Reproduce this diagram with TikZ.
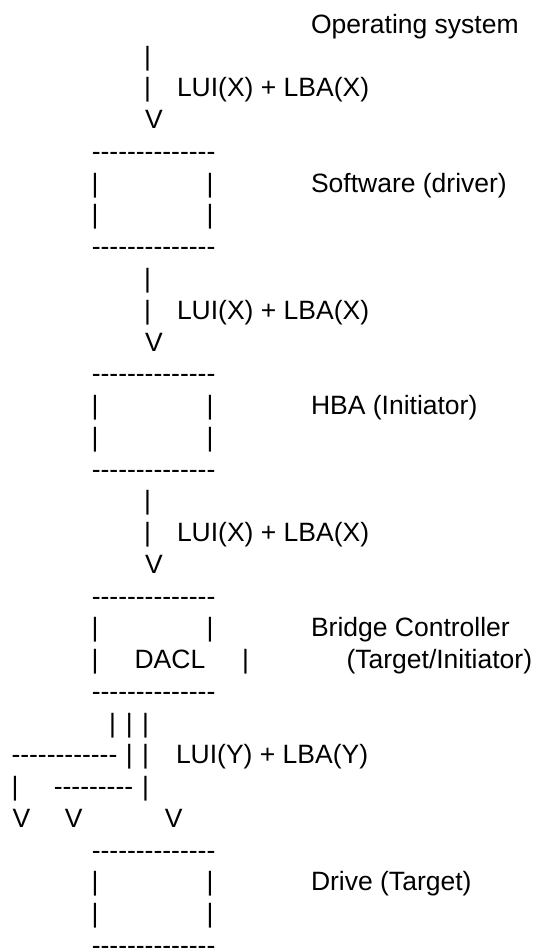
\documentclass[tikz,border=0pt]{standalone}
\usepackage{fontspec}
\newfontfamily\lsf{Liberation Sans}
\newcommand\hy{-\kern0pt}
\newcommand\Ln[1]{-33.5-31.75*(#1-1)}
\tikzset{
  txt/.style={anchor=base west, inner sep=0pt, outer sep=0pt, font=\lsf\fontsize{26.5}{31.75}\selectfont},
}
\begin{document}
\begin{tikzpicture}[x=1pt,y=1pt]
\fill[white] (0,0) rectangle (538,-949);
\useasboundingbox (0,0) rectangle (538,-949);
% top label
\node[txt] (os) at (311,{\Ln{1}}) {Operating system};
% arrows LUI(X)+LBA(X)
\foreach \s/\k in {2/a,9/b,16/c}{
  \node[txt] (bar1\k) at (144,{\Ln{\s}}) {|};
  \node[txt] (bar2\k) at (144,{\Ln{\s+1}}) {|};
  \node[txt] (lab\k) at (177,{\Ln{\s+1}}) {LUI(X) + LBA(X)};
  \node[txt] (v\k) at (145,{\Ln{\s+2}}) {V};
}
% boxes
\foreach \b/\k in {5/a,12/b,19/c,27/d}{
  \node[txt] (top\k) at (91.8,{\Ln{\b}}) {\hy\hy\hy\hy\hy\hy\hy\hy\hy\hy\hy\hy\hy\hy};
  \node[txt] (bot\k) at (91.8,{\Ln{\b+3}}) {\hy\hy\hy\hy\hy\hy\hy\hy\hy\hy\hy\hy\hy\hy};
  \node[txt] (l1\k) at (91.5,{\Ln{\b+1}}) {|};
  \node[txt] (l2\k) at (91.5,{\Ln{\b+2}}) {|};
  \node[txt] (r1\k) at (206.5,{\Ln{\b+1}}) {|};
}
\node[txt] (r2a) at (206.5,{\Ln{7}}) {|};
\node[txt] (r2b) at (206.5,{\Ln{14}}) {|};
\node[txt] (r2d) at (206.5,{\Ln{29}}) {|};
\node[txt] (dacl) at (134.6,{\Ln{21}}) {DACL};
\node[txt] (r2c) at (242.2,{\Ln{21}}) {|};
% labels
\node[txt] (sw) at (311,{\Ln{6}}) {Software (driver)};
\node[txt] (hba) at (311,{\Ln{13}}) {HBA (Initiator)};
\node[txt] (bc) at (311,{\Ln{20}}) {Bridge Controller};
\node[txt] (ti) at (346.5,{\Ln{21}}) {(Target/Initiator)};
\node[txt] (dr) at (311,{\Ln{28}}) {Drive (Target)};
% fan-out
\node[txt] (f1) at (109.2,{\Ln{23}}) {|};
\node[txt] (f2) at (125.8,{\Ln{23}}) {|};
\node[txt] (f3) at (142.2,{\Ln{23}}) {|};
\node[txt] (g0) at (11.5,{\Ln{24}}) {\hy\hy\hy\hy\hy\hy\hy\hy\hy\hy\hy\hy};
\node[txt] (g2) at (125.8,{\Ln{24}}) {|};
\node[txt] (g3) at (142.2,{\Ln{24}}) {|};
\node[txt] (laby) at (176,{\Ln{24}}) {LUI(Y) + LBA(Y)};
\node[txt] (h1) at (11.5,{\Ln{25}}) {|};
\node[txt] (h0) at (53.8,{\Ln{25}}) {\hy\hy\hy\hy\hy\hy\hy\hy\hy};
\node[txt] (h3) at (142.2,{\Ln{25}}) {|};
\node[txt] (vy1) at (12.6,{\Ln{26}}) {V};
\node[txt] (vy2) at (64.9,{\Ln{26}}) {V};
\node[txt] (vy3) at (164.9,{\Ln{26}}) {V};
\end{tikzpicture}
\end{document}
